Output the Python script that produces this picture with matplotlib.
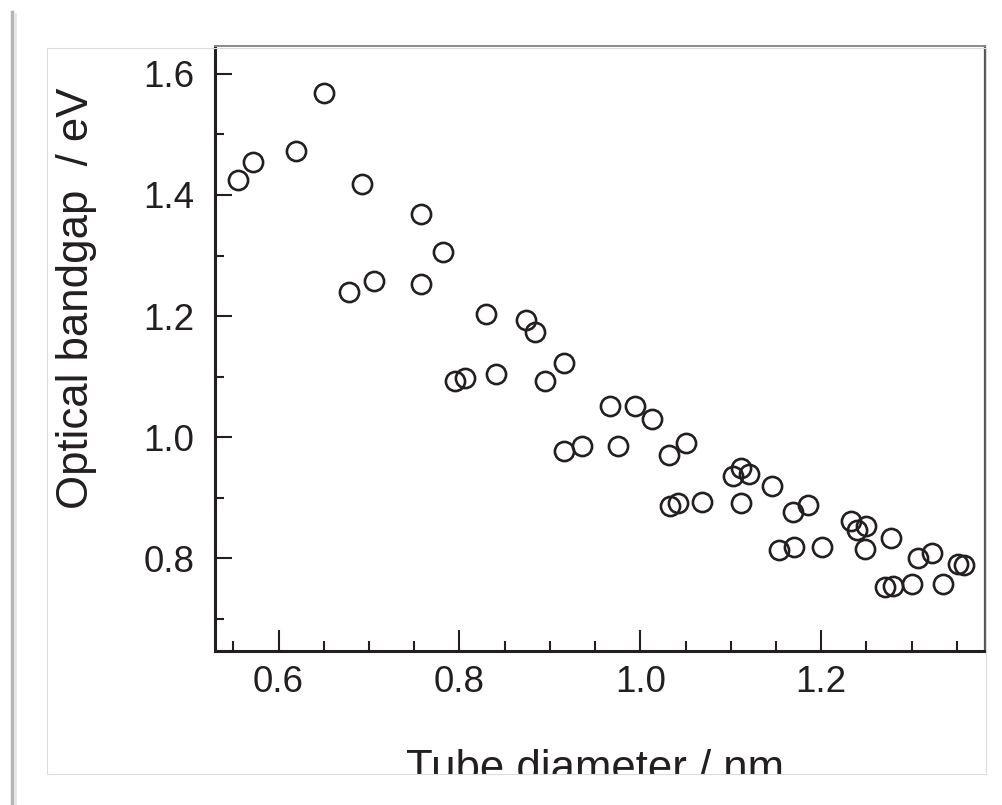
import matplotlib.pyplot as plt
from matplotlib.patches import Rectangle
from matplotlib.lines import Line2D
from matplotlib.ticker import MultipleLocator

plt.rcParams['font.family'] = ['Liberation Sans', 'DejaVu Sans']

# tube diameter (nm) and optical bandgap (eV)
diameter = [0.555, 0.572, 0.619, 0.650, 0.692, 0.678, 0.705, 0.757, 0.757, 0.782,
            0.829, 0.873, 0.884, 0.915, 0.795, 0.806, 0.840, 0.895, 0.966, 0.994,
            1.013, 0.915, 0.936, 0.975, 1.032, 1.050, 1.033, 1.042, 1.068, 1.102,
            1.111, 1.120, 1.111, 1.145, 1.169, 1.185, 1.153, 1.170, 1.201, 1.233,
            1.240, 1.249, 1.248, 1.277, 1.270, 1.279, 1.300, 1.307, 1.322, 1.335,
            1.351, 1.358]
bandgap = [1.425, 1.454, 1.472, 1.568, 1.418, 1.239, 1.258, 1.368, 1.253, 1.305,
           1.204, 1.194, 1.173, 1.123, 1.092, 1.098, 1.105, 1.092, 1.052, 1.052,
           1.030, 0.978, 0.986, 0.986, 0.970, 0.990, 0.886, 0.891, 0.893, 0.936,
           0.949, 0.940, 0.892, 0.920, 0.876, 0.888, 0.814, 0.818, 0.819, 0.862,
           0.847, 0.853, 0.815, 0.833, 0.753, 0.754, 0.757, 0.800, 0.809, 0.758,
           0.790, 0.789]

ink = '#231f20'

fig = plt.figure(figsize=(10.03, 8.05), dpi=100)
ax = fig.add_axes([0.2144, 0.1913, 0.7676, 0.7516])

ax.plot(diameter, bandgap, 'o', ms=13.8, mfc='none', mec=ink, mew=1.9,
        clip_on=False)

ax.set_xlim(0.5297, 1.381)
ax.set_ylim(0.647, 1.646)
ax.xaxis.set_major_locator(MultipleLocator(0.2))
ax.xaxis.set_minor_locator(MultipleLocator(0.05))
ax.yaxis.set_major_locator(MultipleLocator(0.2))
ax.yaxis.set_minor_locator(MultipleLocator(0.1))
ax.xaxis.set_major_formatter(plt.FormatStrFormatter('%.1f'))
ax.yaxis.set_major_formatter(plt.FormatStrFormatter('%.1f'))

ax.tick_params(axis='x', which='major', direction='in', length=15, width=1.5,
               color=ink, labelsize=26.5, labelcolor=ink, pad=10)
ax.tick_params(axis='x', which='minor', direction='in', length=7.5, width=1.5,
               color=ink)
ax.tick_params(axis='y', which='major', direction='in', length=12.5, width=1.5,
               color=ink, labelsize=26.5, labelcolor=ink, pad=15)
ax.tick_params(axis='y', which='minor', direction='in', length=6.5, width=1.5,
               color=ink)

ax.spines['left'].set_linewidth(2.2)
ax.spines['left'].set_color(ink)
ax.spines['bottom'].set_linewidth(2.2)
ax.spines['bottom'].set_color(ink)
ax.spines['top'].set_linewidth(1.4)
ax.spines['top'].set_color('#8a8a8a')
ax.spines['right'].set_linewidth(1.6)
ax.spines['right'].set_color('#555555')

# axis titles placed by hand like the scanned figure
fig.text(77 / 1003, 1 - 298 / 805, 'Optical bandgap  / eV', rotation=90,
         ha='center', va='center', fontsize=31.5, color=ink)
fig.text(595 / 1003, 1 - 781 / 805, 'Tube diameter / nm', ha='center',
         va='baseline', fontsize=31.5, color=ink, zorder=1)

# white strip cutting the x title, and the faint page frame
fig.patches.append(Rectangle((0, 0), 1, 1 - 774 / 805, transform=fig.transFigure,
                             facecolor='white', edgecolor='none', zorder=5))
fig.patches.append(Rectangle((47 / 1003, 1 - 774 / 805), 939 / 1003, 726 / 805,
                             transform=fig.transFigure, facecolor='none',
                             edgecolor='#dcdcdc', lw=0.8, zorder=6))
# shadowed edge at the far left
fig.lines.append(Line2D([12 / 1003, 12 / 1003], [0, 1 - 12 / 805],
                        transform=fig.transFigure, color='#b5b5b5', lw=2.5,
                        zorder=6))
fig.lines.append(Line2D([15 / 1003, 15 / 1003], [0, 1 - 14 / 805],
                        transform=fig.transFigure, color='#e6e6e6', lw=2,
                        zorder=6))

fig.savefig('out.png', dpi=100)
